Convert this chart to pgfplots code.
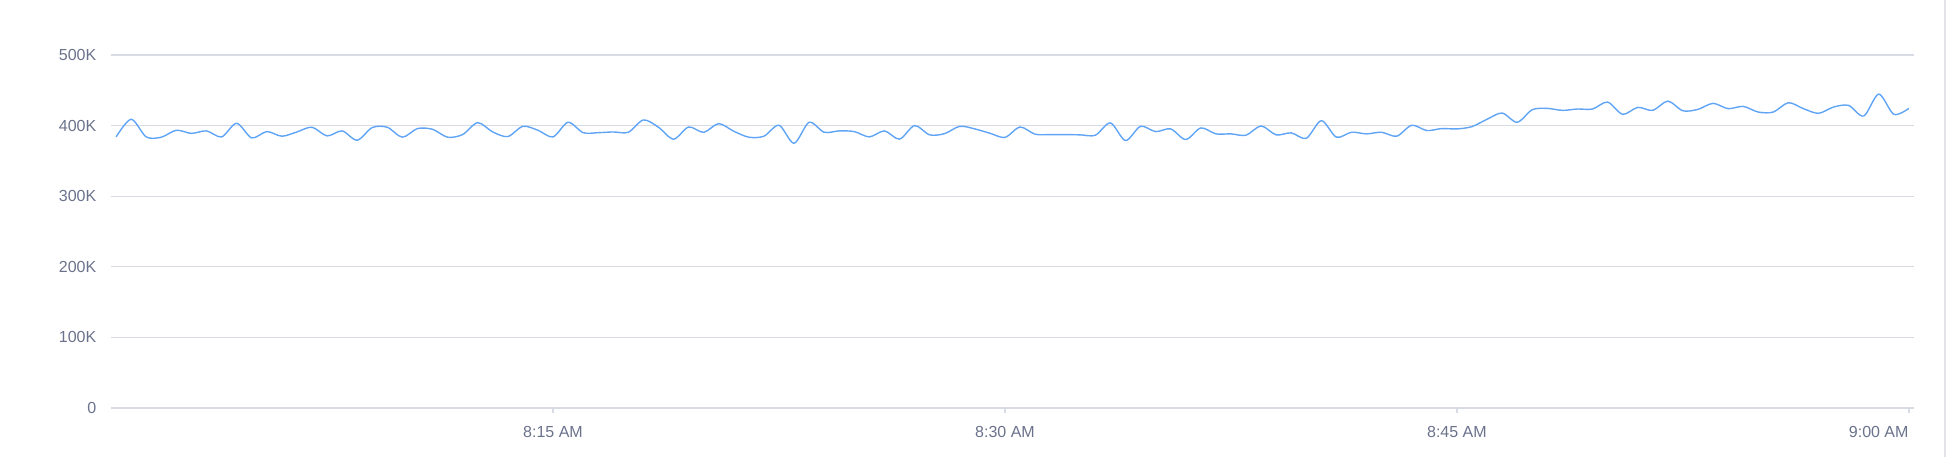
\documentclass[border=0pt]{standalone}
\usepackage{fontspec}
\setmainfont{Liberation Sans}
\usepackage{pgfplots}
\pgfplotsset{compat=1.18}
\usepackage{pgfplotstable}

\definecolor{lineblue}{RGB}{96,165,245}
\definecolor{gridgray}{RGB}{216,219,228}
\definecolor{labelgray}{RGB}{107,114,140}
\definecolor{bordergray}{RGB}{226,228,233}

% minutes after 8:00 AM, value in thousands
\pgfplotstableread{
m v
0.5 384
1.0 409
1.5 384
2.0 383.6
2.5 393.4
3.0 389
3.5 392.5
4.0 384
4.5 403.3
5.0 382.6
5.5 391.5
6.0 385
6.5 391
7.0 397.7
7.5 385.4
8.0 392.5
8.5 379.3
9.0 397.2
9.5 397.7
10.0 383.6
10.5 395.8
11.0 394.8
11.5 383.6
12.0 387.3
12.5 404.2
13.0 391
13.5 384.5
14.0 399
14.5 393.4
15.0 384
15.5 404.7
16.0 390
16.5 390
17.0 391
17.5 390.6
18.0 408
18.5 397.7
19.0 380.8
19.5 398
20.0 390.5
20.5 402.8
21.0 392
21.5 383.6
22.0 385
22.5 400.5
23.0 375
23.5 404.7
24.0 390.6
24.5 392.5
25.0 391.5
25.5 384
26.0 392.5
26.5 380.8
27.0 400
27.5 386.9
28.0 388.7
28.5 399
29.0 395.3
29.5 389.2
30.0 383.3
30.5 398
31.0 387.8
31.5 387.3
32.0 387.3
32.5 386.9
33.0 386.4
33.5 403.8
34.0 378.9
34.5 399
35.0 391.5
35.5 395.3
36.0 380.3
36.5 396.7
37.0 388.3
37.5 388.3
38.0 386.4
38.5 399.5
39.0 386.9
39.5 389.7
40.0 382
40.5 407
41.0 383.6
41.5 390.6
42.0 388.3
42.5 390.6
43.0 385
43.5 400.5
44.0 393
44.5 395.8
45.0 395.3
45.5 398.6
46.0 409
46.5 417.8
47.0 404.7
47.5 422.5
48.0 424.4
48.5 421.6
49.0 423.5
49.5 423.5
50.0 433.3
50.5 416
51.0 425.8
51.5 421.6
52.0 434.7
52.5 421
53.0 423
53.5 431.5
54.0 424
54.5 427.2
55.0 419.2
55.5 419.2
56.0 432.4
56.5 424
57.0 417.4
57.5 426.3
58.0 428.6
58.5 413.6
59.0 444.6
59.5 416
60.0 424.4
}\series

\begin{document}
\begin{tikzpicture}
\useasboundingbox (-55.5pt,-24.5pt) rectangle (918pt,204pt);
\draw[bordergray, line width=1pt] (917pt,-24.5pt) -- (917pt,204pt);

\begin{axis}[
    at={(0,0)},
    anchor=south west,
    scale only axis,
    width=901.5pt,
    height=176.5pt,
    xmin=0.33, xmax=60.17,
    ymin=0, ymax=500,
    axis line style={draw=none},
    ymajorgrids,
    grid style={gridgray, line width=0.6pt},
    ytick={0,100,200,300,400,500},
    yticklabels={0,100K,200K,300K,400K,500K},
    xtick={15,30,45},
    xticklabels={8:15 AM,8:30 AM,8:45 AM},
    extra x ticks={60},
    extra x tick labels={9:00 AM},
    extra x tick style={xticklabel style={anchor=north east}},
    xtick pos=bottom,
    tick align=outside,
    major tick length=2.5pt,
    xtick style={draw=gridgray, line width=0.6pt},
    ytick style={draw=none},
    ticklabel style={font=\fontsize{8}{9}\selectfont, text=labelgray, inner sep=0pt},
    yticklabel style={anchor=east, xshift=-4.65pt},
    xticklabel style={anchor=north, yshift=-6.4pt},
    /pgf/number format/assume math mode=true,
    clip=false,
]
\addplot[lineblue, line width=0.7pt, smooth, tension=0.5] table[x=m, y=v] {\series};
\end{axis}
\end{tikzpicture}
\end{document}
